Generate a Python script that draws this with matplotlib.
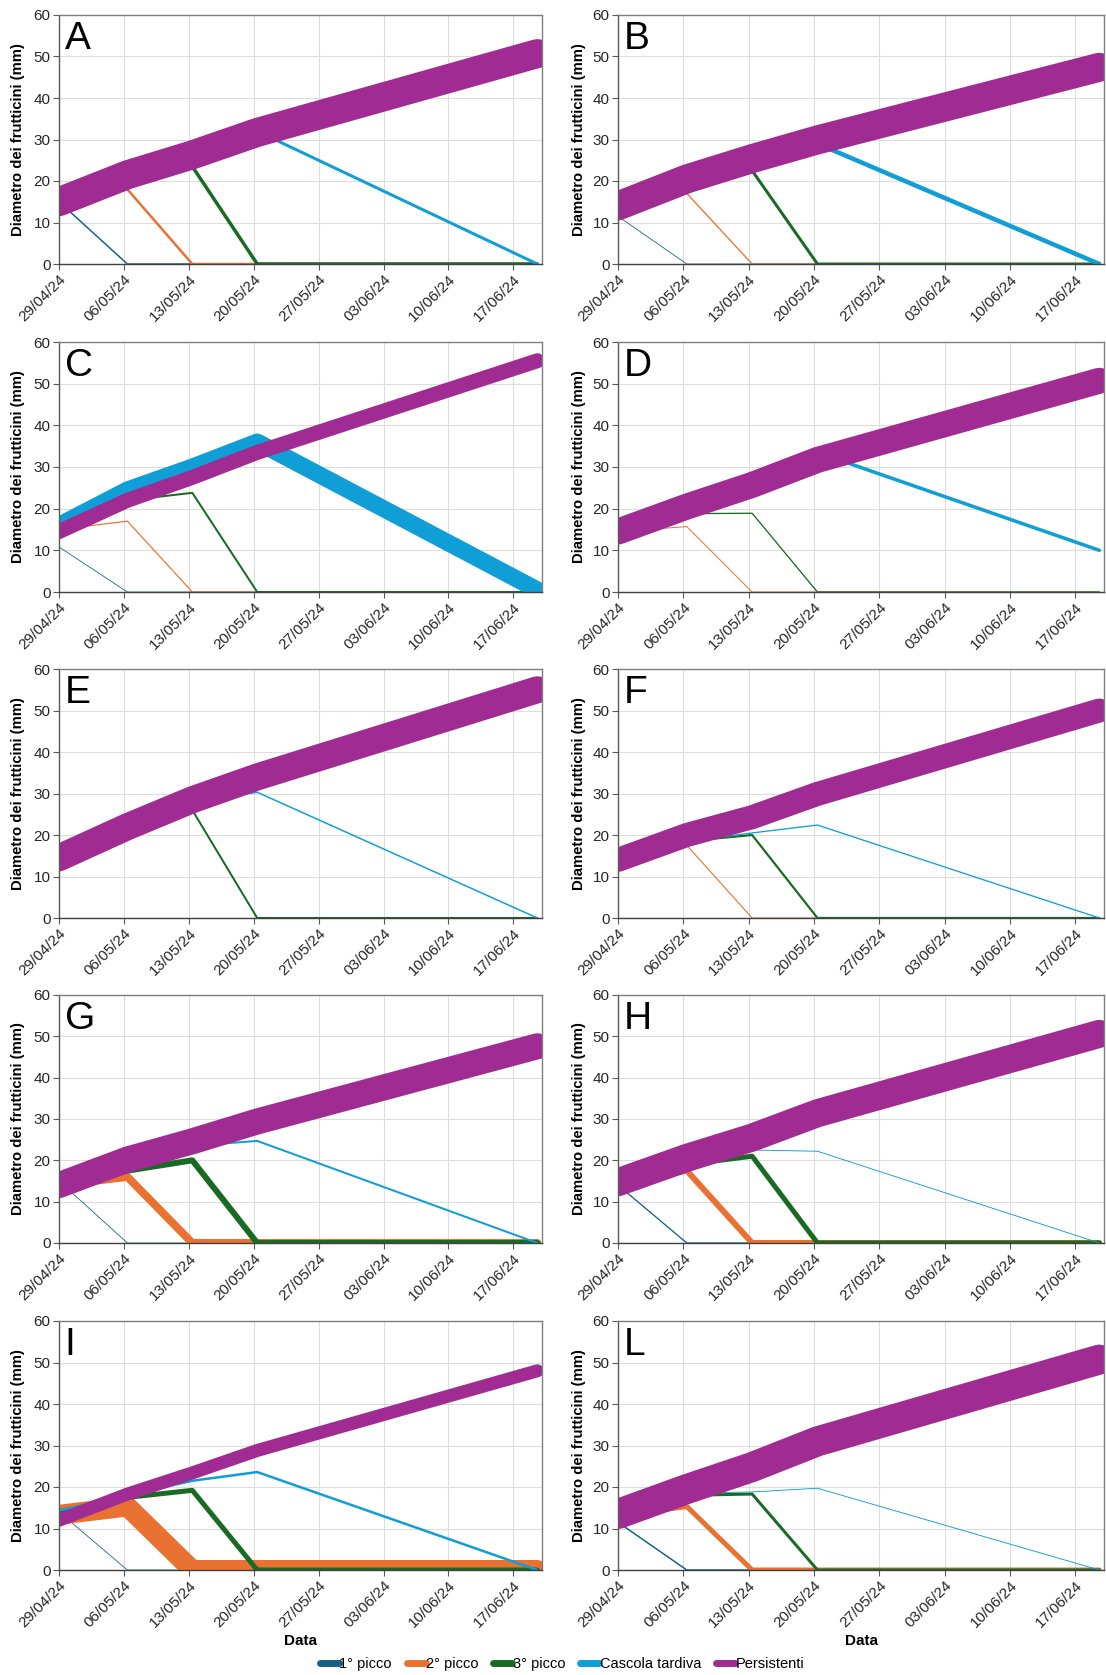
import numpy as np
import pandas as pd
import matplotlib
matplotlib.use('Agg')
import matplotlib.pyplot as plt
import matplotlib.dates as mdates
from matplotlib.lines import Line2D

plt.rcParams['font.family'] = ['Liberation Sans', 'DejaVu Sans']

panels = ['A', 'B', 'C', 'D', 'E', 'F', 'G', 'H', 'I', 'L']
dates = pd.to_datetime(['2024-04-29 00:00', '2024-05-06 09:00', '2024-05-13 09:00',
                        '2024-05-20 09:00', '2024-06-19 14:00'])
series = ['1° picco', '2° picco', '3° picco', 'Cascola tardiva', 'Persistenti']

# diametro medio (mm) per pannello, una riga per pannello A..L
picco1 = [
    [15, 0, 0, 0, 0],
    [11.5, 0, 0, 0, 0],
    [10.8, 0, 0, 0, 0],
    [0, 0, 0, 0, 0],
    [0, 0, 0, 0, 0],
    [0, 0, 0, 0, 0],
    [15, 0, 0, 0, 0],
    [14, 0, 0, 0, 0],
    [14, 0, 0, 0, 0],
    [11.5, 0, 0, 0, 0],
]
picco2 = [
    [15, 18, 0, 0, 0],
    [14, 17, 0, 0, 0],
    [15, 17, 0, 0, 0],
    [14.5, 15.7, 0, 0, 0],
    [0, 0, 0, 0, 0],
    [14, 17.5, 0, 0, 0],
    [14, 16, 0, 0, 0],
    [14.5, 17.5, 0, 0, 0],
    [13.3, 15.3, 0, 0, 0],
    [13, 15.3, 0, 0, 0],
]
picco3 = [
    [15, 21, 23.5, 0, 0],
    [14, 20, 22.5, 0, 0],
    [15, 22, 23.8, 0, 0],
    [15, 18.8, 18.9, 0, 0],
    [15, 21, 26, 0, 0],
    [14, 18.5, 20, 0, 0],
    [14, 17.5, 20, 0, 0],
    [14.5, 19, 21, 0, 0],
    [14, 17.5, 19.2, 0, 0],
    [13, 18, 18.3, 0, 0],
]
cascola = [
    [15, 21.5, 26.5, 32, 0],
    [14, 20.5, 25, 29, 0],
    [16, 24.5, 30, 36, 0.5],
    [15, 20.5, 26, 33.5, 10],
    [15, 22, 28, 30.3, 0],
    [14, 18.5, 20.5, 22.4, 0],
    [14, 18, 23.5, 24.7, 0],
    [14.5, 19, 22.5, 22.2, 0],
    [14.3, 18, 21.5, 23.6, 0],
    [13, 18.5, 18.8, 19.7, 0],
]
persistenti = [
    [15, 21.5, 26.3, 31.7, 50.7],
    [14, 20.5, 25.4, 29.9, 47.4],
    [14.5, 22, 27.5, 33.5, 55.5],
    [14.5, 20.5, 25.7, 31.7, 50.7],
    [14.5, 22, 28.5, 34, 55],
    [14, 20, 24.3, 29.9, 50],
    [14, 20.2, 24.6, 29.4, 47.6],
    [14.7, 20.6, 25.5, 31.4, 50.6],
    [12, 18.3, 23.4, 28.8, 48],
    [13.5, 19.5, 24.8, 31, 50.7],
]

# spessori delle linee (pixel) per pannello
widths = {
    '1° picco':        [1.5, 0.8, 0.8, 1, 1, 1, 0.8, 1.3, 0.8, 1.5],
    '2° picco':        [2.5, 1.3, 1.2, 1, 1, 1.1, 8, 6, 20, 5],
    '3° picco':        [3.5, 3, 2, 1.3, 2, 2.2, 6, 5, 5, 3],
    'Cascola tardiva': [3, 4.5, 17, 3.5, 1.5, 1.3, 2, 0.9, 2.5, 0.9],
    'Persistenti':     [29, 29, 15, 26, 27, 24, 26, 28, 13, 30],
}
colors = {
    '1° picco': '#156082',
    '2° picco': '#E97132',
    '3° picco': '#196B24',
    'Cascola tardiva': '#0F9ED5',
    'Persistenti': '#A02B93',
}
values = dict(zip(series, [picco1, picco2, picco3, cascola, persistenti]))

W, H = 1106, 1675
DPI = 100
fig = plt.figure(figsize=(W / DPI, H / DPI), dpi=DPI)

cols = [(59, 542), (618, 1104)]
rows = [(15, 264), (342, 592), (669, 918), (995, 1243), (1321, 1570)]
px2pt = 72 / DPI
ticks = pd.date_range('2024-04-29', '2024-06-17', freq='7D')

for i, name in enumerate(panels):
    r, c = divmod(i, 2)
    x0, x1 = cols[c]
    y0, y1 = rows[r]
    ax = fig.add_axes([x0 / W, 1 - y1 / H, (x1 - x0) / W, (y1 - y0) / H])

    for s in series:
        ax.plot(dates, values[s][i], color=colors[s], lw=widths[s][i] * px2pt,
                solid_capstyle='round', solid_joinstyle='round')

    ax.set_ylim(0, 60)
    ax.set_yticks(range(0, 61, 10))
    ax.set_xlim(pd.Timestamp('2024-04-29'), pd.Timestamp('2024-06-20 02:00'))
    ax.set_xticks(ticks)
    ax.xaxis.set_major_formatter(mdates.DateFormatter('%d/%m/%y'))
    for lab in ax.get_xticklabels():
        lab.set_rotation(45)
        lab.set_ha('right')
        lab.set_va('top')
        lab.set_rotation_mode('anchor')
    ax.tick_params(axis='x', labelsize=11, length=4, color='#595959', pad=2,
                   labelcolor='#262626')
    ax.tick_params(axis='y', labelsize=11, length=4, color='#595959', pad=2,
                   labelcolor='#262626')

    ax.grid(True, color='#DDDDDD', lw=0.8)
    ax.set_axisbelow(True)
    for sp in ax.spines.values():
        sp.set_color('#7F7F7F')
        sp.set_linewidth(1)
    ax.spines['bottom'].set_color('#404040')
    ax.spines['left'].set_color('#595959')

    ax.set_ylabel('Diametro dei frutticini (mm)', fontsize=10.75, fontweight='bold')
    ax.yaxis.set_label_coords(-0.07 if c == 0 else -0.066, 0.5)

    ax.text(0.012, 0.975, name, transform=ax.transAxes, fontsize=28,
            ha='left', va='top', zorder=10)

    if r == 4:
        fig.text(((x0 + x1) / 2) / W, 1 - 1641 / H, 'Data', fontsize=11,
                 fontweight='bold', ha='center', va='center')

handles = [Line2D([0], [0], color=colors[s], lw=5, solid_capstyle='round') for s in series]
fig.legend(handles, series, loc='center', bbox_to_anchor=(562 / W, 1 - 1664 / H),
           ncol=5, frameon=False, fontsize=10.5, handlelength=1.3, handletextpad=0.05,
           columnspacing=1.0)

fig.savefig('out.png', dpi=DPI)
